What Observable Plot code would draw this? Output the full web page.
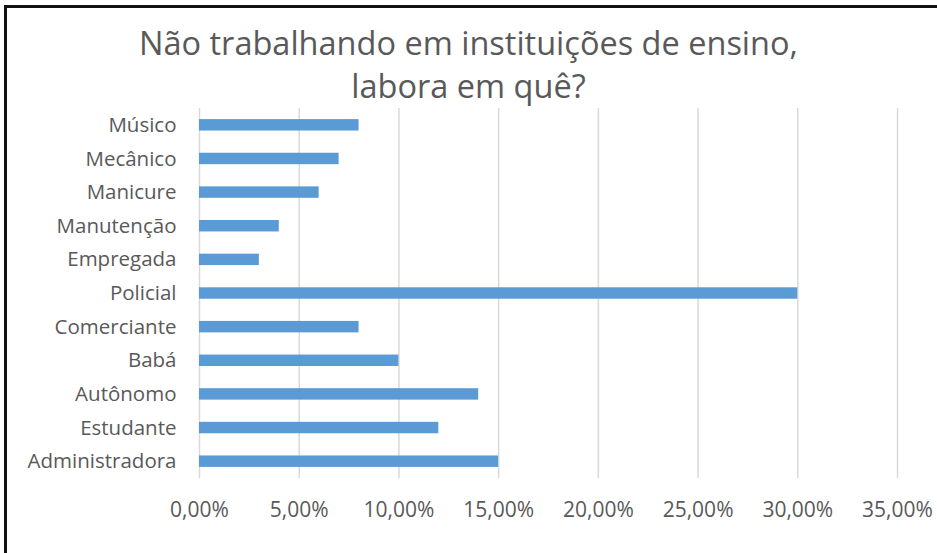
<!DOCTYPE html>
<html>
<head>
<meta charset="utf-8">
<script src="https://cdn.jsdelivr.net/npm/d3@7"></script>
<script src="https://cdn.jsdelivr.net/npm/@observablehq/plot@0.6"></script>
<style>
  html, body { margin: 0; padding: 0; background: #fff; }
  #wrap { position: relative; width: 937px; height: 553px; overflow: hidden; background: #fff; }
  #frame { position: absolute; left: 4px; top: 5px; width: 940px; height: 560px;
           border-left: 3px solid #111; border-top: 3px solid #111; pointer-events: none; }
  #title { position: absolute; left: 0; top: 0; width: 937px; height: 108px;
           text-align: center; font-family: "Open Sans", "Liberation Sans", sans-serif;
           font-size: 32.5px; line-height: 43px; color: #595959; padding-top: 21px; box-sizing: border-box; }
  #chart { position: absolute; left: 0; top: 108px; }
</style>
</head>
<body>
<div id="wrap">
  <div id="title">Não trabalhando em instituições de ensino,<br>labora em quê?</div>
  <div id="chart"></div>
  <div id="frame"></div>
</div>
<script>
const categories = ["Músico","Mecânico","Manicure","Manutenção","Empregada","Policial","Comerciante","Babá","Autônomo","Estudante","Administradora"];
const values = [0.08, 0.07, 0.06, 0.04, 0.03, 0.30, 0.08, 0.10, 0.14, 0.12, 0.15];
const xTicks = [0, 0.05, 0.10, 0.15, 0.20, 0.25, 0.30, 0.35];

const data = categories.map((c, i) => ({category: c, value: values[i]}));
const fmt = v => (v * 100).toFixed(2).replace(".", ",") + "%";

const chart = Plot.plot({
  width: 937,
  height: 445,
  marginLeft: 199,
  marginRight: 40,
  marginTop: 0,
  marginBottom: 75,
  style: {fontFamily: "'Open Sans', 'Liberation Sans', sans-serif", fontSize: "20.5px", color: "#595959", background: "transparent"},
  x: {domain: [0, 0.35], ticks: xTicks, tickFormat: fmt, label: null},
  y: {domain: categories, paddingInner: 0.66, paddingOuter: 0.33, round: false, label: null},
  marks: [
    Plot.gridX(xTicks, {stroke: "#d9d9d9", strokeOpacity: 1, strokeWidth: 1.5}),
    Plot.barX(data, {x: "value", y: "category", fill: "#5b9bd5"}),
    Plot.axisX({ticks: xTicks, tickFormat: fmt, tickSize: 0, tickPadding: 24, fill: "#595959", fontSize: 21}),
    Plot.axisY({tickSize: 0, tickPadding: 23, fill: "#595959", fontSize: 20.5})
  ]
});
document.getElementById("chart").appendChild(chart);
</script>
</body>
</html>
